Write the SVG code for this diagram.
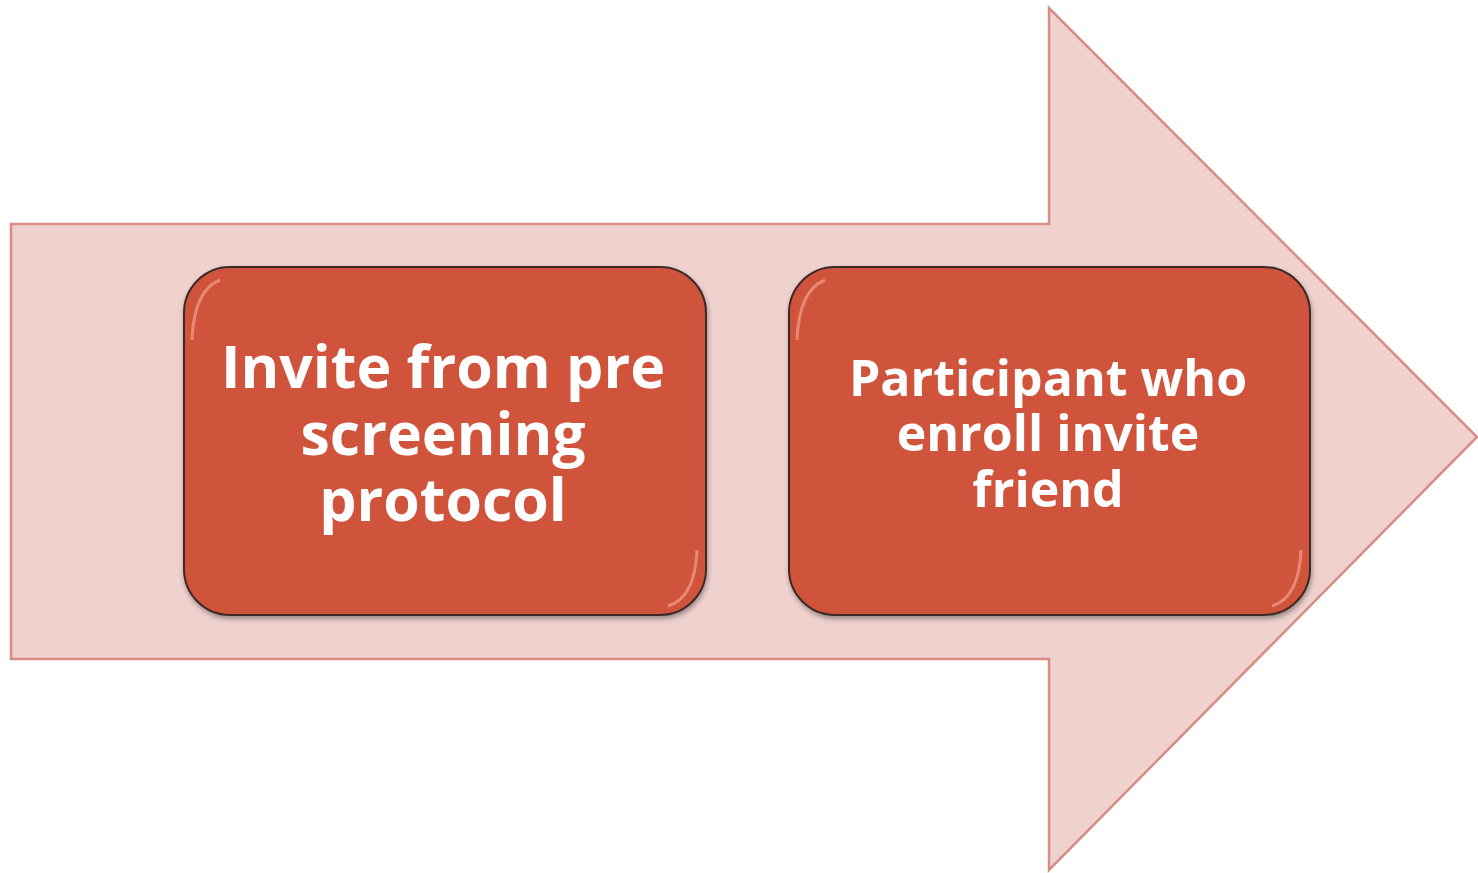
<svg xmlns="http://www.w3.org/2000/svg" width="1478" height="873" viewBox="0 0 1478 873">
<style>
.lbl{font-family:"Open Sans","Liberation Sans",sans-serif;font-weight:bold;fill:#ffffff;text-anchor:middle}
.box{fill:#D0533B;stroke:#3a2a26;stroke-width:2}
.hl{fill:none;stroke:#F4A08C;stroke-width:3;opacity:0.7}
</style>
<defs>
<filter id="sh" x="-5%" y="-5%" width="110%" height="115%">
<feDropShadow dx="1" dy="3" stdDeviation="2.5" flood-color="#000" flood-opacity="0.35"/>
</filter>
</defs>
<rect width="1478" height="873" fill="#ffffff"/>
<g id="arrow">
<polygon points="11,224 1049,224 1049,8 1477,437 1049,870 1049,659 11,659" fill="#EFD1CE" stroke="#D88C86" stroke-width="2.5"/>
</g>
<g id="node1">
<rect class="box" x="184" y="267" width="522" height="348" rx="46" filter="url(#sh)"/>
<path class="hl" d="M 192,340 Q 194,290 220,280"/>
<path class="hl" d="M 697,550 Q 695,598 668,606"/>
<text class="lbl" font-size="59"><tspan x="443" y="388">Invite from pre</tspan><tspan x="443" y="455">screening</tspan><tspan x="443" y="521">protocol</tspan></text>
</g>
<g id="node2">
<rect class="box" x="789" y="267" width="521" height="348" rx="46" filter="url(#sh)"/>
<path class="hl" d="M 797,340 Q 799,290 825,280"/>
<path class="hl" d="M 1301,550 Q 1299,598 1272,606"/>
<text class="lbl" font-size="50"><tspan x="1048" y="396">Participant who</tspan><tspan x="1048" y="451">enroll invite</tspan><tspan x="1048" y="507">friend</tspan></text>
</g>
<g id="connectors"></g>
</svg>
